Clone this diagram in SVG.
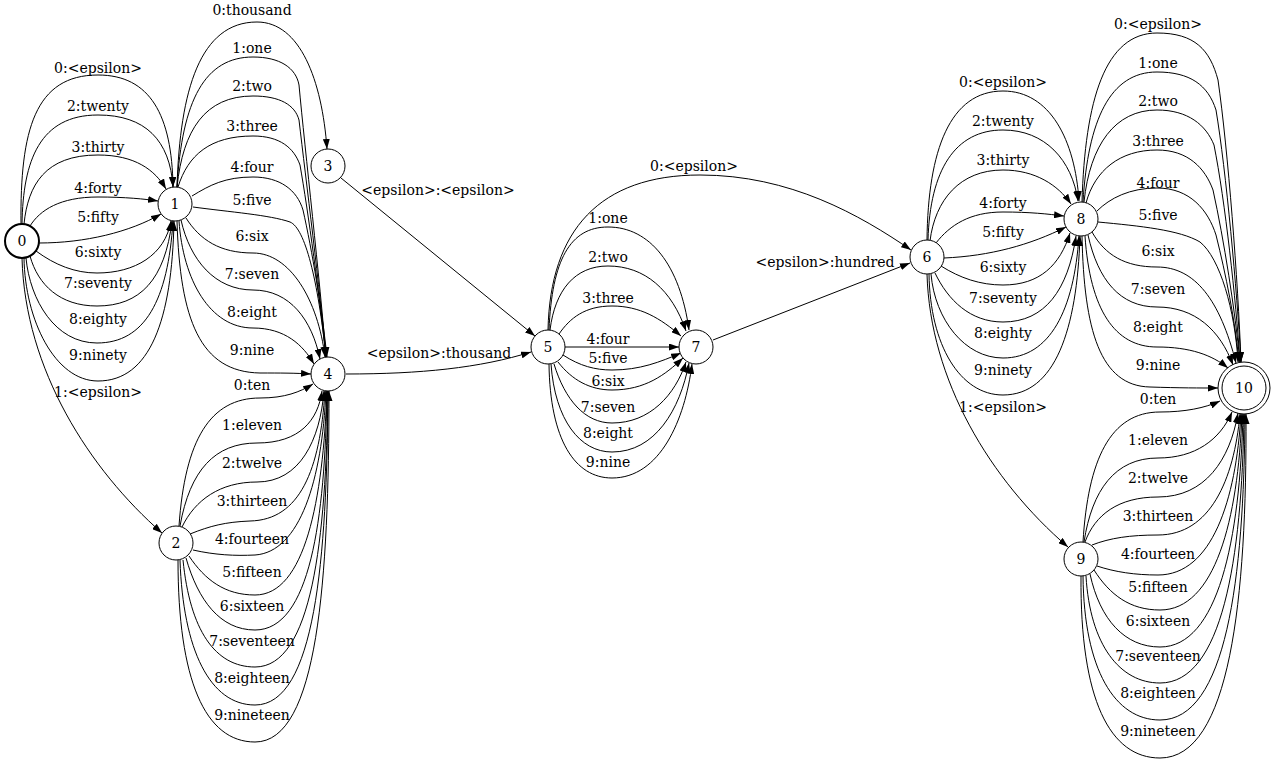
<svg xmlns="http://www.w3.org/2000/svg" width="1275" height="763" viewBox="0 0 1275 763">
<style>
text{font-family:"DejaVu Serif","Liberation Serif",serif;font-size:14px;text-anchor:middle;fill:#000}
.e path{fill:none;stroke:#000;stroke-width:1;marker-end:url(#ah)}
.n circle{fill:#fff;stroke:#000;stroke-width:1}
</style>
<defs>
<marker id="ah" viewBox="0 0 10 7" refX="10" refY="3.5" markerWidth="10" markerHeight="7" markerUnits="userSpaceOnUse" orient="auto"><path d="M0,0 L10,3.5 L0,7 z" fill="#000"/></marker>
</defs>
<rect width="1275" height="763" fill="#fff"/>
<g id="connectors" class="e">
<!-- 0 -> 1 -->
<path d="M21,224 C20,130 35,75 98,75 C150,75 172,115 173,187"/><text x="98" y="73">0:&lt;epsilon&gt;</text>
<path d="M22,224 C23,160 40,115 98,115 C145,115 170,140 173,187"/><text x="98" y="111">2:twenty</text>
<path d="M24,224 C28,185 45,155 98,155 C135,155 155,170 166,189"/><text x="98" y="152">3:thirty</text>
<path d="M30,226 C40,210 60,197 98,197 C125,197 145,199 158,201"/><text x="98" y="193">4:forty</text>
<path d="M39,243 C85,243 130,232 161,214"/><text x="98" y="222">5:fifty</text>
<path d="M36,251 C55,265 75,273 97,273 C135,273 165,255 171,221"/><text x="98" y="257">6:sixty</text>
<path d="M30,256 C38,285 60,306 97,306 C140,306 165,280 172,221"/><text x="98" y="288">7:seventy</text>
<path d="M26,258 C30,300 55,343 97,343 C145,343 168,300 173,221"/><text x="98" y="324">8:eighty</text>
<path d="M24,258 C25,320 55,381 98,381 C150,381 172,320 174,221"/><text x="98" y="360">9:ninety</text>
<!-- 0 -> 2 -->
<path d="M22,258 C25,370 90,470 162,533"/><text x="98" y="397">1:&lt;epsilon&gt;</text>
<!-- 1 -> 3 -->
<path d="M177,187 C180,90 200,22 257,22 C300,22 322,80 327,149"/><text x="252" y="15">0:thousand</text>
<!-- 1 -> 4 -->
<path d="M177,187 C182,100 205,57 253,57 C280,57 296,68 299,85 C305,150 320,280 326,357"/><text x="252" y="53">1:one</text>
<path d="M177,187 C183,130 205,96 253,96 C280,96 295,105 299,120 C306,180 320,290 326,357"/><text x="252" y="91">2:two</text>
<path d="M178,187 C188,155 210,136 253,136 C280,136 294,148 300,165 C308,210 320,300 326,357"/><text x="252" y="131">3:three</text>
<path d="M192,196 C210,185 225,177 253,177 C280,177 297,190 303,210 C312,250 322,310 327,357"/><text x="252" y="172">4:four</text>
<path d="M193,207 C230,212 270,215 290,222 C305,228 318,280 326,357"/><text x="252" y="205">5:five</text>
<path d="M186,218 C200,240 220,253 253,253 C290,253 318,300 325,357"/><text x="252" y="241">6:six</text>
<path d="M181,220 C190,260 215,290 253,290 C290,290 312,320 320,359"/><text x="252" y="279">7:seven</text>
<path d="M179,221 C183,280 210,328 253,328 C285,328 303,345 314,364"/><text x="252" y="317">8:eight</text>
<path d="M177,221 C180,320 200,372 260,373 C280,373 295,373 311,374"/><text x="252" y="355">9:nine</text>
<!-- 2 -> 4 -->
<path d="M179,526 C185,440 210,398 260,398 C285,398 300,392 313,384"/><text x="252" y="390">0:ten</text>
<path d="M180,526 C190,470 215,443 257,443 C300,443 318,420 322,391"/><text x="252" y="430">1:eleven</text>
<path d="M182,527 C195,500 220,482 257,482 C300,482 320,440 324,391"/><text x="252" y="468">2:twelve</text>
<path d="M190,534 C210,526 225,522 250,521 C300,520 320,470 325,391"/><text x="252" y="506">3:thirteen</text>
<path d="M193,550 C215,555 235,556 255,555 C300,552 322,480 326,391"/><text x="252" y="544">4:fourteen</text>
<path d="M189,556 C205,580 225,595 255,595 C305,595 323,500 327,391"/><text x="252" y="577">5:fifteen</text>
<path d="M186,558 C198,600 220,630 255,630 C310,630 325,520 327,391"/><text x="252" y="611">6:sixteen</text>
<path d="M183,560 C190,630 215,667 255,667 C312,667 326,540 328,391"/><text x="252" y="646">7:seventeen</text>
<path d="M180,560 C183,650 210,705 255,705 C315,705 327,560 328,391"/><text x="252" y="683">8:eighteen</text>
<path d="M178,560 C178,680 205,742 255,742 C318,742 329,580 329,391"/><text x="252" y="720">9:nineteen</text>
<!-- 3 -> 5 -->
<path d="M341,178 L535,336"/><text x="438" y="195">&lt;epsilon&gt;:&lt;epsilon&gt;</text>
<!-- 4 -> 5 -->
<path d="M346,374 C420,374 480,368 531,352"/><text x="439" y="358">&lt;epsilon&gt;:thousand</text>
<!-- 5 -> 7 -->
<path d="M549,330 C552,260 570,227 608,227 C650,227 680,265 689,330"/><text x="608" y="223">1:one</text>
<path d="M550,330 C555,290 575,266 608,266 C645,266 672,290 686,331"/><text x="608" y="262">2:two</text>
<path d="M559,334 C570,318 585,306 612,306 C640,306 660,318 681,336"/><text x="608" y="303">3:three</text>
<path d="M565,347 L679,347"/><text x="608" y="344">4:four</text>
<path d="M563,355 C580,366 595,370 612,370 C640,370 660,362 681,353"/><text x="608" y="363">5:five</text>
<path d="M558,362 C572,380 590,390 612,390 C645,390 665,375 683,358"/><text x="608" y="386">6:six</text>
<path d="M554,364 C565,400 585,423 612,423 C650,423 675,395 686,362"/><text x="608" y="412">7:seven</text>
<path d="M551,364 C555,420 580,452 612,452 C655,452 680,410 689,363"/><text x="608" y="438">8:eight</text>
<path d="M549,364 C550,440 575,478 612,478 C660,478 685,420 692,364"/><text x="608" y="467">9:nine</text>
<!-- 5 -> 6 -->
<path d="M548,330 C550,230 600,175 700,175 C790,175 860,215 911,250"/><text x="694" y="171">0:&lt;epsilon&gt;</text>
<!-- 7 -> 6 -->
<path d="M713,340 L910,263"/><text x="825" y="267">&lt;epsilon&gt;:hundred</text>
<!-- 6 -> 8 -->
<path d="M927,240 C928,150 950,91 1003,91 C1050,91 1075,140 1079,201"/><text x="1003" y="87">0:&lt;epsilon&gt;</text>
<path d="M928,240 C930,170 955,130 1003,130 C1045,130 1072,160 1078,201"/><text x="1003" y="126">2:twenty</text>
<path d="M930,241 C935,200 960,170 1003,170 C1035,170 1058,185 1071,204"/><text x="1003" y="165">3:thirty</text>
<path d="M936,243 C950,225 970,212 1003,212 C1030,212 1048,214 1064,216"/><text x="1003" y="208">4:forty</text>
<path d="M944,258 C990,256 1030,245 1066,227"/><text x="1003" y="237">5:fifty</text>
<path d="M941,266 C960,278 980,285 1003,285 C1040,285 1060,265 1070,233"/><text x="1003" y="272">6:sixty</text>
<path d="M935,273 C948,300 970,322 1003,322 C1045,322 1068,290 1076,236"/><text x="1003" y="303">7:seventy</text>
<path d="M931,274 C935,320 965,358 1003,358 C1050,358 1074,310 1079,236"/><text x="1003" y="338">8:eighty</text>
<path d="M929,274 C930,345 960,395 1003,395 C1055,395 1077,330 1080,236"/><text x="1003" y="375">9:ninety</text>
<!-- 6 -> 9 -->
<path d="M927,274 C930,380 990,480 1068,547"/><text x="1003" y="412">1:&lt;epsilon&gt;</text>
<!-- 8 -> 10 -->
<path d="M1082,202 C1085,100 1105,33 1157,33 C1195,33 1210,50 1218,80 C1228,150 1238,280 1241,362"/><text x="1158" y="29">0:&lt;epsilon&gt;</text>
<path d="M1083,202 C1088,120 1110,72 1157,72 C1190,72 1208,85 1216,110 C1226,170 1237,290 1241,362"/><text x="1158" y="68">1:one</text>
<path d="M1084,202 C1090,145 1115,110 1157,110 C1188,110 1206,125 1214,145 C1225,200 1236,300 1240,362"/><text x="1158" y="106">2:two</text>
<path d="M1086,203 C1095,170 1120,150 1157,150 C1188,150 1205,168 1213,190 C1224,240 1235,310 1240,362"/><text x="1158" y="146">3:three</text>
<path d="M1097,211 C1110,198 1130,188 1157,188 C1190,188 1208,210 1216,235 C1226,275 1235,320 1239,362"/><text x="1158" y="188">4:four</text>
<path d="M1098,222 C1140,226 1180,230 1200,242 C1220,258 1235,310 1238,362"/><text x="1158" y="220">5:five</text>
<path d="M1092,232 C1105,255 1125,267 1157,267 C1195,267 1220,300 1236,363"/><text x="1158" y="256">6:six</text>
<path d="M1088,235 C1098,280 1120,307 1157,307 C1195,307 1220,330 1233,365"/><text x="1158" y="294">7:seven</text>
<path d="M1085,236 C1090,310 1115,347 1157,347 C1190,347 1212,355 1228,368"/><text x="1158" y="332">8:eight</text>
<path d="M1082,236 C1084,330 1100,386 1150,387 C1180,388 1200,388 1218,388"/><text x="1158" y="370">9:nine</text>
<!-- 9 -> 10 -->
<path d="M1083,542 C1088,460 1110,412 1160,412 C1185,412 1205,408 1220,401"/><text x="1158" y="404">0:ten</text>
<path d="M1084,542 C1092,490 1115,458 1158,458 C1195,458 1220,440 1232,412"/><text x="1158" y="445">1:eleven</text>
<path d="M1085,542 C1095,515 1118,497 1158,497 C1205,497 1230,460 1238,413"/><text x="1158" y="483">2:twelve</text>
<path d="M1092,545 C1110,538 1130,535 1158,535 C1210,535 1234,480 1240,414"/><text x="1158" y="521">3:thirteen</text>
<path d="M1097,566 C1115,572 1135,575 1158,575 C1212,575 1236,500 1241,414"/><text x="1158" y="559">4:fourteen</text>
<path d="M1094,570 C1110,595 1130,610 1160,610 C1215,610 1238,520 1242,414"/><text x="1158" y="592">5:fifteen</text>
<path d="M1090,574 C1100,620 1125,647 1160,647 C1218,647 1240,540 1243,414"/><text x="1158" y="626">6:sixteen</text>
<path d="M1086,576 C1090,645 1120,683 1160,683 C1222,683 1242,560 1244,414"/><text x="1158" y="661">7:seventeen</text>
<path d="M1083,576 C1084,670 1115,720 1160,720 C1226,720 1244,580 1245,414"/><text x="1158" y="698">8:eighteen</text>
<path d="M1081,576 C1080,700 1110,758 1160,758 C1230,758 1247,600 1246,414"/><text x="1158" y="736">9:nineteen</text>
</g>
<g id="node0" class="n"><circle cx="22" cy="241" r="17" style="stroke-width:2"/><text x="22" y="246">0</text></g>
<g id="node1" class="n"><circle cx="175" cy="204" r="17"/><text x="175" y="209">1</text></g>
<g id="node2" class="n"><circle cx="176" cy="543" r="17"/><text x="176" y="548">2</text></g>
<g id="node3" class="n"><circle cx="328" cy="166" r="17"/><text x="328" y="171">3</text></g>
<g id="node4" class="n"><circle cx="328" cy="374" r="17"/><text x="328" y="379">4</text></g>
<g id="node5" class="n"><circle cx="548" cy="347" r="17"/><text x="548" y="352">5</text></g>
<g id="node7" class="n"><circle cx="696" cy="347" r="17"/><text x="696" y="352">7</text></g>
<g id="node6" class="n"><circle cx="927" cy="257" r="17"/><text x="927" y="262">6</text></g>
<g id="node8" class="n"><circle cx="1081" cy="219" r="17"/><text x="1081" y="224">8</text></g>
<g id="node9" class="n"><circle cx="1081" cy="559" r="17"/><text x="1081" y="564">9</text></g>
<g id="node10" class="n"><circle cx="1244" cy="388" r="26"/><circle cx="1244" cy="388" r="22"/><text x="1244" y="393">10</text></g>
</svg>
